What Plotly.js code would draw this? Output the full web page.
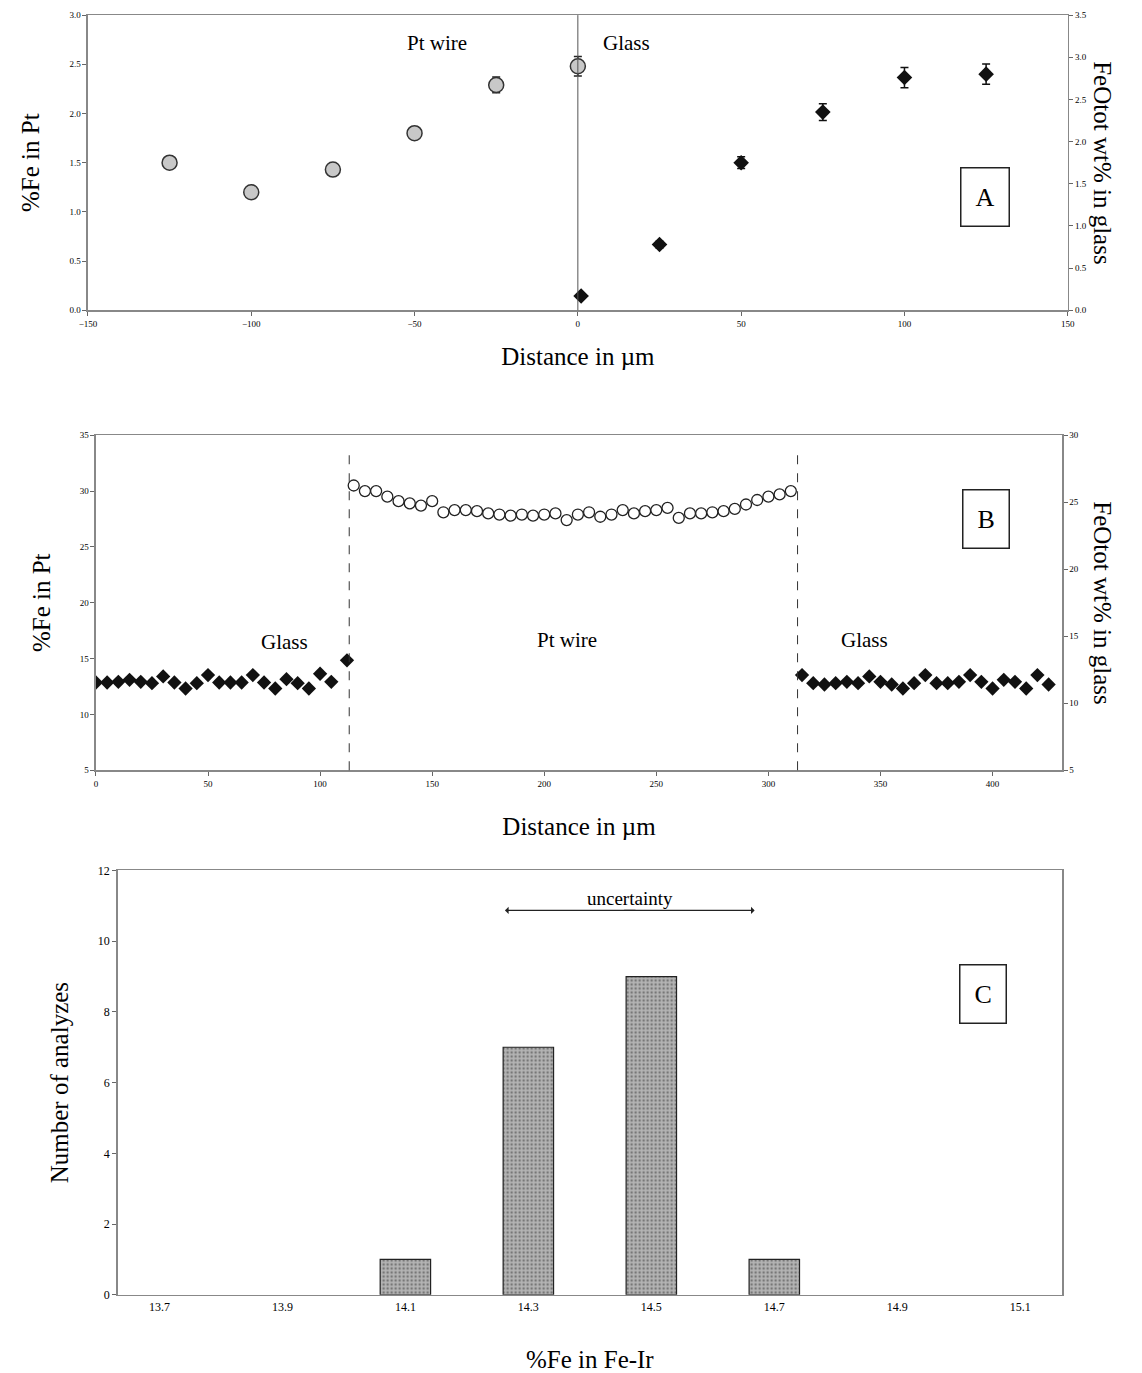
<!DOCTYPE html>
<html><head><meta charset="utf-8">
<script src="https://cdn.plot.ly/plotly-3.0.1.min.js"></script>
<style>body{margin:0;background:#fff}#g{width:1142px;height:1373px}</style>
</head><body><div id="g"></div>
<script>
// Panel A
const aPtX = [-125, -100, -75, -50, -25, 0];
const aPtY = [1.5, 1.2, 1.43, 1.8, 2.29, 2.48];
const aPtErr = [0.04, 0.04, 0.05, 0.06, 0.08, 0.1];
const aGlX = [1, 25, 50, 75, 100, 125];
const aGlY = [0.17, 0.78, 1.75, 2.35, 2.76, 2.8];
const aGlErr = [0.03, 0.04, 0.07, 0.1, 0.12, 0.12];

// Panel B
const bPtX = [115,120,125,130,135,140,145,150,155,160,165,170,175,180,185,190,195,200,205,210,
  215,220,225,230,235,240,245,250,255,260,265,270,275,280,285,290,295,300,305,310];
const bPtY = [30.5,30.0,30.0,29.5,29.1,28.9,28.7,29.1,28.1,28.3,28.3,28.2,28.0,27.9,27.8,27.9,27.8,27.9,28.0,27.4,
  27.9,28.1,27.7,27.9,28.3,28.0,28.2,28.3,28.5,27.6,28.0,28.0,28.1,28.2,28.4,28.8,29.2,29.5,29.7,30.0];
const bGl1X = [0,5,10,15,20,25,30,35,40,45,50,55,60,65,70,75,80,85,90,95,100,105,112];
const bGl1Y = [11.55,11.55,11.6,11.75,11.6,11.5,12.0,11.55,11.1,11.5,12.1,11.55,11.55,11.55,12.1,11.55,11.1,11.8,11.5,11.1,12.2,11.6,13.2];
const bGl2X = [315,320,325,330,335,340,345,350,355,360,365,370,375,380,385,390,395,400,405,410,415,420,425];
const bGl2Y = [12.1,11.5,11.4,11.5,11.6,11.5,12.0,11.6,11.4,11.1,11.5,12.1,11.5,11.5,11.6,12.1,11.6,11.1,11.75,11.6,11.1,12.1,11.4];

// Panel C
const cBins = [13.7, 13.9, 14.1, 14.3, 14.5, 14.7, 14.9, 15.1];
const cCounts = [0, 0, 1, 7, 9, 1, 0, 0];

const F = 'Liberation Serif, Times New Roman, serif';
const frame = {showline:true, mirror:true, linecolor:'#888', linewidth:1.5, ticks:'outside', ticklen:4, tickcolor:'#666', zeroline:false, showgrid:false, tickfont:{family:F, size:9, color:'#000'}};
const ttl = (t, sd) => ({text:t, standoff:sd, font:{family:F, size:25, color:'#000'}});
const txt = s => ({family:F, size:s, color:'#000'});

const traces = [
  {x:aPtX, y:aPtY, error_y:{array:aPtErr, color:'#222', thickness:1.5, width:4}, mode:'markers', type:'scatter', xaxis:'x', yaxis:'y',
   marker:{symbol:'circle', size:15, color:'#c8c8c8', line:{color:'#333', width:1.5}}},
  {x:aGlX, y:aGlY, error_y:{array:aGlErr, color:'#111', thickness:1.5, width:4}, mode:'markers', type:'scatter', xaxis:'x', yaxis:'y2',
   marker:{symbol:'diamond', size:12, color:'#111'}},
  {x:bPtX, y:bPtY, mode:'markers', type:'scatter', xaxis:'x2', yaxis:'y3',
   marker:{symbol:'circle', size:11, color:'#fff', line:{color:'#222', width:1.3}}},
  {x:bGl1X, y:bGl1Y, mode:'markers', type:'scatter', xaxis:'x2', yaxis:'y4', marker:{symbol:'diamond', size:11, color:'#111'}},
  {x:bGl2X, y:bGl2Y, mode:'markers', type:'scatter', xaxis:'x2', yaxis:'y4', marker:{symbol:'diamond', size:11, color:'#111'}},
  {x:cBins, y:cCounts, type:'bar', width:0.082, xaxis:'x3', yaxis:'y5',
   marker:{color:'#a9a9a9', pattern:{shape:'.', fgcolor:'#777', bgcolor:'#b4b4b4', size:4, solidity:0.3},
           line:{color:'#222', width:cCounts.map(c => c > 0 ? 1.2 : 0)}}}
];

const layout = {
  width:1142, height:1373, showlegend:false, margin:{l:0, r:0, t:0, b:0},
  paper_bgcolor:'#fff', plot_bgcolor:'#fff',
  xaxis:{...frame, domain:[0.077,0.935], anchor:'y', range:[-150,150], dtick:50, title:ttl('Distance in µm', 20)},
  yaxis:{...frame, mirror:false, domain:[0.774,0.989], anchor:'x', range:[0,3], dtick:0.5, tickformat:'.1f', title:ttl('%Fe in Pt', 22)},
  yaxis2:{...frame, mirror:false, overlaying:'y', side:'right', anchor:'x', range:[0,3.5], dtick:0.5, tickformat:'.1f'},
  xaxis2:{...frame, domain:[0.084,0.930], anchor:'y3', range:[0,431], dtick:50, title:ttl('Distance in µm', 30)},
  yaxis3:{...frame, mirror:false, domain:[0.439,0.683], anchor:'x2', range:[5,35], dtick:5, title:ttl('%Fe in Pt', 22)},
  yaxis4:{...frame, mirror:false, overlaying:'y3', side:'right', anchor:'x2', range:[5,30], dtick:5},
  xaxis3:{...frame, ticks:'', domain:[0.103,0.930], anchor:'y5', range:[13.632,15.168], tickvals:cBins, tickformat:'.1f', tickfont:txt(12), title:ttl('%Fe in Fe-Ir', 40)},
  yaxis5:{...frame, domain:[0.057,0.366], anchor:'x3', range:[0,12], dtick:2, tickfont:txt(12), title:ttl('Number of analyzes', 22)},
  shapes:[
    {type:'line', xref:'x', yref:'y domain', x0:0, x1:0, y0:0, y1:1, line:{color:'#555', width:1}},
    {type:'line', xref:'x2', yref:'y3 domain', x0:113, x1:113, y0:0, y1:0.95, line:{color:'#333', width:1, dash:'dash'}},
    {type:'line', xref:'x2', yref:'y3 domain', x0:313, x1:313, y0:0, y1:0.95, line:{color:'#333', width:1, dash:'dash'}}
  ],
  annotations:[
    {xref:'paper', yref:'y domain', x:1118/1142, y:0.5, text:'FeOtot wt% in glass', textangle:90, showarrow:false, font:txt(25)},
    {xref:'paper', yref:'y3 domain', x:1118/1142, y:0.5, text:'FeOtot wt% in glass', textangle:90, showarrow:false, font:txt(25)},
    {xref:'x', yref:'y', x:-43, y:2.72, text:'Pt wire', showarrow:false, font:txt(21)},
    {xref:'x', yref:'y', x:15, y:2.72, text:'Glass', showarrow:false, font:txt(21)},
    {xref:'x', yref:'y', x:124.6, y:1.15, text:'A', showarrow:false, font:txt(26), bordercolor:'#222', borderwidth:1.5, borderpad:14, bgcolor:'#fff'},
    {xref:'x2', yref:'y3', x:84, y:16.5, text:'Glass', showarrow:false, font:txt(21)},
    {xref:'x2', yref:'y3', x:210, y:16.7, text:'Pt wire', showarrow:false, font:txt(21)},
    {xref:'x2', yref:'y3', x:343, y:16.7, text:'Glass', showarrow:false, font:txt(21)},
    {xref:'x2', yref:'y3', x:397, y:27.5, text:'B', showarrow:false, font:txt(26), bordercolor:'#222', borderwidth:1.5, borderpad:14, bgcolor:'#fff'},
    {xref:'x3', yref:'y5', x:15.04, y:8.5, text:'C', showarrow:false, font:txt(26), bordercolor:'#222', borderwidth:1.5, borderpad:14, bgcolor:'#fff'},
    {xref:'x3', yref:'y5', x:14.465, y:11.2, text:'uncertainty', showarrow:false, font:txt(19)},
    {xref:'x3', yref:'y5', x:14.262, y:10.87, ax:132, ay:0, text:'', showarrow:true, arrowhead:1, arrowsize:1, arrowwidth:1.2, arrowcolor:'#222', standoff:0, startstandoff:0},
    {xref:'x3', yref:'y5', x:14.668, y:10.87, ax:-132, ay:0, text:'', showarrow:true, arrowhead:1, arrowsize:1, arrowwidth:1.2, arrowcolor:'#222', standoff:0, startstandoff:0}
  ]
};
Plotly.newPlot('g', traces, layout, {staticPlot:true});
</script></body></html>
